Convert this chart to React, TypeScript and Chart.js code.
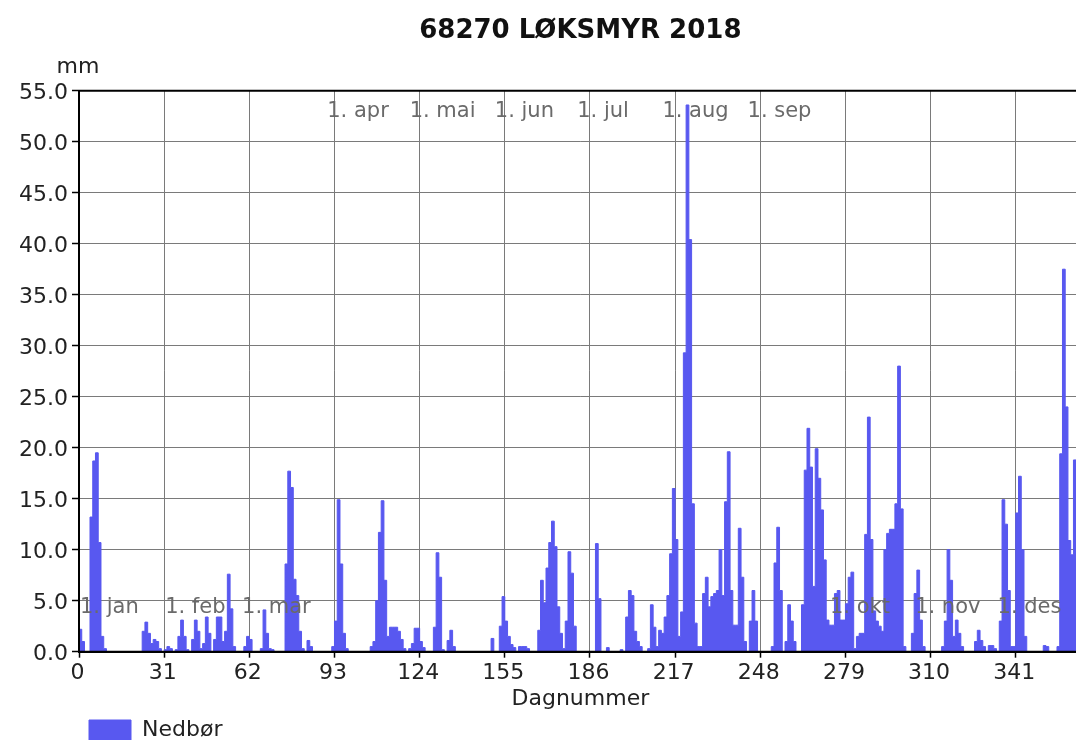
import React, { useEffect, useRef } from "react";
import { Chart, registerables } from "chart.js";

Chart.register(...registerables);

// ---------- data ----------
const chartTitle = "68270 LØKSMYR 2018";
const seriesLabel = "Nedbør";
const xAxisTitle = "Dagnummer";
const unitLabel = "mm";

// daily precipitation (mm), day 0 .. 364
const nedbor: number[] = [
  2.2, 1.0, 0, 0, 13.2, 18.7, 19.5, 10.7, 1.5, 0.3,
  0, 0, 0, 0, 0, 0, 0, 0, 0, 0,
  0, 0, 0, 2.0, 2.9, 1.8, 0.8, 1.2, 1.0, 0.3,
  0, 0.2, 0.5, 0.3, 0, 0.2, 1.5, 3.1, 1.5, 0.2,
  0, 1.2, 3.1, 2.0, 0.3, 0.8, 3.4, 1.8, 0, 1.2,
  3.4, 3.4, 1.0, 2.0, 7.6, 4.2, 0.5, 0, 0, 0,
  0.5, 1.5, 1.2, 0, 0, 0, 0.3, 4.1, 1.8, 0.3,
  0.2, 0, 0, 0, 0, 8.6, 17.7, 16.1, 7.1, 5.5,
  2.0, 0.3, 0, 1.1, 0.5, 0, 0, 0, 0, 0,
  0, 0, 0.5, 3.0, 14.9, 8.6, 1.8, 0.3, 0, 0,
  0, 0, 0, 0, 0, 0, 0.5, 1.0, 5.0, 11.7,
  14.8, 7.0, 1.5, 2.4, 2.4, 2.4, 2.0, 1.2, 0.3, 0,
  0.3, 0.8, 2.3, 2.3, 1.0, 0.4, 0, 0, 0, 2.4,
  9.7, 7.3, 0.2, 0, 1.1, 2.1, 0.5, 0, 0, 0,
  0, 0, 0, 0, 0, 0, 0, 0, 0, 0,
  1.3, 0, 0, 2.5, 5.4, 3.0, 1.5, 0.7, 0.4, 0,
  0.5, 0.5, 0.5, 0.3, 0, 0, 0, 2.1, 7.0, 4.8,
  8.2, 10.7, 12.8, 10.3, 4.4, 1.8, 0.3, 3.0, 9.8, 7.7,
  2.5, 0, 0, 0, 0, 0, 0, 0, 10.6, 5.2,
  0, 0, 0.4, 0, 0, 0, 0, 0.2, 0, 3.4,
  6.0, 5.5, 2.0, 1.0, 0.5, 0, 0, 0.3, 4.6, 2.4,
  0.5, 2.1, 1.8, 3.4, 5.5, 9.6, 16.0, 11.0, 1.5, 3.9,
  29.3, 53.6, 40.4, 14.5, 2.8, 0.5, 0.5, 5.7, 7.3, 4.4,
  5.4, 5.7, 6.0, 10.0, 5.5, 14.7, 19.6, 6.0, 2.6, 2.6,
  12.1, 7.3, 1.0, 0, 3.0, 6.0, 3.0, 0, 0, 0,
  0, 0, 0.5, 8.7, 12.2, 6.0, 0, 1.0, 4.6, 3.0,
  1.0, 0, 0, 4.6, 17.8, 21.9, 18.1, 6.4, 19.9, 17.0,
  13.9, 9.0, 3.1, 2.6, 2.6, 5.7, 6.0, 3.1, 3.1, 4.7,
  7.3, 7.8, 0.3, 1.5, 1.8, 1.8, 11.5, 23.0, 11.0, 4.0,
  3.0, 2.5, 2.0, 10.0, 11.6, 12.0, 12.0, 14.5, 28.0, 14.0,
  0.5, 0, 0, 1.8, 5.7, 8.0, 3.1, 0.5, 0, 0,
  0, 0, 0, 0, 0.5, 3.0, 10.0, 7.0, 1.5, 3.1,
  1.8, 0.5, 0, 0, 0, 0, 1.0, 2.1, 1.1, 0.5,
  0, 0.6, 0.6, 0.3, 0, 3.0, 14.9, 12.5, 6.0, 0.5,
  0.5, 13.6, 17.2, 10.0, 1.5, 0, 0, 0, 0, 0,
  0, 0.6, 0.5, 0, 0, 0, 0.5, 19.4, 37.5, 24.0,
  10.9, 9.5, 18.8, 8.0, 3.0,
];

const xTickValues = [0, 31, 62, 93, 124, 155, 186, 217, 248, 279, 310, 341];
const yTickValues = [0, 5, 10, 15, 20, 25, 30, 35, 40, 45, 50, 55];
const xMin = 0;
const xMax = 365;
const yMin = 0;
const yMax = 55;

const monthLabels = [
  "1. jan", "1. feb", "1. mar", "1. apr", "1. mai", "1. jun",
  "1. jul", "1. aug", "1. sep", "1. okt", "1. nov", "1. des",
];
const monthStartDays = [0, 31, 59, 90, 120, 151, 181, 212, 243, 273, 304, 334];
// value (mm) of the label baseline inside the plot
const monthLabelLevels = [3.76, 3.76, 3.76, 52.42, 52.42, 52.42, 52.42, 52.42, 52.42, 3.76, 3.76, 3.76];

// ---------- styles ----------
const FONT = "'DejaVu Sans', Verdana, sans-serif";
const BAR_COLOR = "rgb(88, 88, 240)";
const GRID_COLOR = "#7a7a7a";

const CANVAS_W = 1100;
const CANVAS_H = 751;

const overlayPlugin = {
  id: "overlay",
  afterDatasetsDraw(chart: any) {
    const { ctx, chartArea: a, scales } = chart;
    const x = scales.x;
    const y = scales.y;
    ctx.save();
    // month labels
    ctx.font = `21px ${FONT}`;
    ctx.fillStyle = "#6a6a6a";
    ctx.textAlign = "left";
    ctx.textBaseline = "alphabetic";
    monthLabels.forEach((name, i) => {
      ctx.fillText(name, x.getPixelForValue(monthStartDays[i]) + 1, y.getPixelForValue(monthLabelLevels[i]));
    });
    // plot frame
    ctx.strokeStyle = "#000";
    ctx.lineWidth = 2;
    ctx.beginPath();
    ctx.moveTo(a.left, a.bottom);
    ctx.lineTo(a.left, a.top);
    ctx.lineTo(a.right, a.top);
    ctx.lineTo(a.right, a.bottom);
    ctx.closePath();
    ctx.stroke();
    // unit label
    ctx.font = `22px ${FONT}`;
    ctx.fillStyle = "#222";
    ctx.textAlign = "center";
    ctx.fillText(unitLabel, a.left - 1, a.top - 18);
    ctx.restore();
  },
};

export default function App() {
  const canvasRef = useRef<HTMLCanvasElement | null>(null);

  useEffect(() => {
    if (!canvasRef.current) return;
    const points = nedbor.map((v, i) => ({ x: i, y: v }));
    points.push({ x: xMax, y: nedbor[nedbor.length - 1] });

    const chart = new Chart(canvasRef.current, {
      type: "line",
      data: {
        datasets: [
          {
            label: seriesLabel,
            data: points,
            stepped: true,
            fill: "origin",
            backgroundColor: BAR_COLOR,
            borderColor: BAR_COLOR,
            borderWidth: 1,
            pointRadius: 0,
            pointHoverRadius: 0,
          },
        ],
      },
      options: {
        responsive: false,
        maintainAspectRatio: false,
        animation: false,
        devicePixelRatio: 1,
        events: [],
        layout: { padding: { left: 0, top: 0, right: CANVAS_W - 1081.7, bottom: 0 } },
        font: { family: FONT },
        plugins: {
          title: {
            display: true,
            text: chartTitle,
            fullSize: false,
            color: "#111",
            font: { family: FONT, size: 26, weight: "bold" },
            padding: { top: 15.3, bottom: 44.2 },
          },
          legend: {
            display: true,
            position: "bottom",
            align: "start",
            fullSize: false,
            labels: {
              boxWidth: 42,
              boxHeight: 20,
              padding: 10,
              color: "#222",
              font: { family: FONT, size: 22 },
            },
          },
          tooltip: { enabled: false },
        },
        scales: {
          x: {
            type: "linear",
            min: xMin,
            max: xMax,
            afterBuildTicks: (scale: any) => {
              scale.ticks = xTickValues.map((v) => ({ value: v }));
            },
            afterFit: (scale: any) => {
              scale.height = 57.3;
            },
            ticks: {
              autoSkip: false,
              maxRotation: 0,
              padding: 2,
              labelOffset: -1.5,
              color: "#222",
              font: { family: FONT, size: 22 },
            },
            grid: {
              color: GRID_COLOR,
              lineWidth: 1,
              tickColor: "#000",
              tickLength: 6,
              tickWidth: 1.5,
            },
            border: { color: "#000", width: 2 },
            title: {
              display: true,
              text: xAxisTitle,
              color: "#222",
              font: { family: FONT, size: 22 },
              padding: { top: 0, bottom: -3.6 },
            },
          },
          y: {
            type: "linear",
            min: yMin,
            max: yMax,
            afterBuildTicks: (scale: any) => {
              scale.ticks = yTickValues.map((v) => ({ value: v }));
            },
            afterFit: (scale: any) => {
              scale.width = 79;
            },
            ticks: {
              padding: 4,
              labelOffset: 2.5,
              color: "#222",
              font: { family: FONT, size: 22 },
              callback: (v: any) => Number(v).toFixed(1),
            },
            grid: {
              color: GRID_COLOR,
              lineWidth: 1,
              tickColor: "#000",
              tickLength: 7,
              tickWidth: 1.5,
            },
            border: { color: "#000", width: 2 },
          },
        },
      },
      plugins: [overlayPlugin],
    } as any);

    return () => chart.destroy();
  }, []);

  return (
    <div
      style={{
        position: "fixed",
        left: 0,
        top: 0,
        width: 1076,
        height: 740,
        overflow: "hidden",
        background: "#fff",
      }}
    >
      <canvas
        ref={canvasRef}
        width={CANVAS_W}
        height={CANVAS_H}
        style={{ display: "block", width: CANVAS_W, height: CANVAS_H }}
      />
    </div>
  );
}
